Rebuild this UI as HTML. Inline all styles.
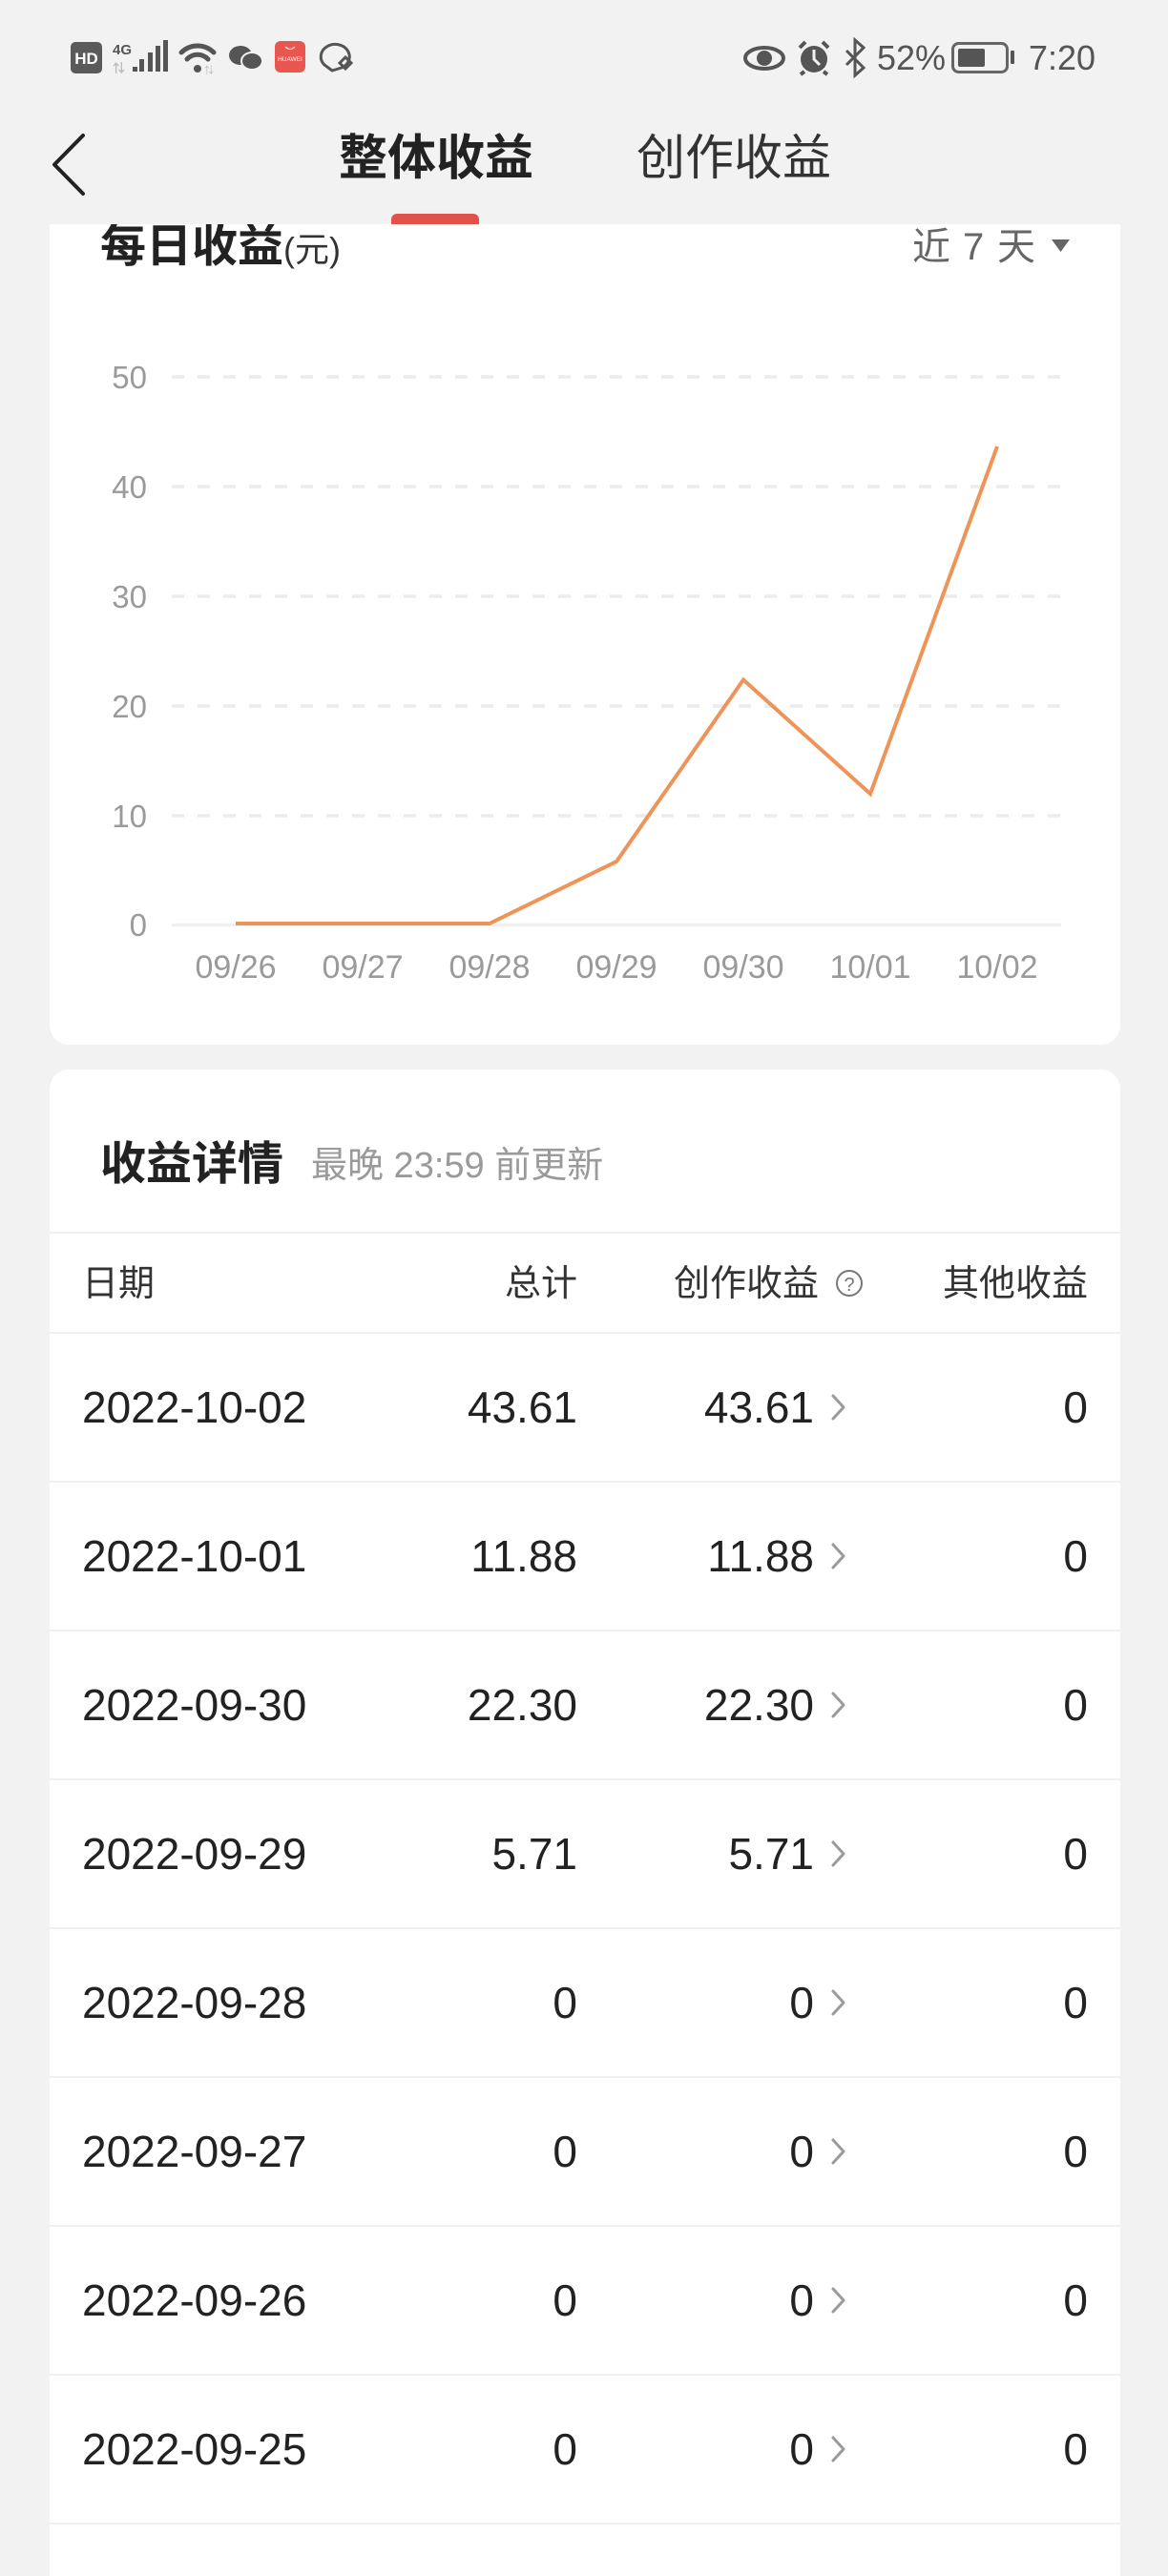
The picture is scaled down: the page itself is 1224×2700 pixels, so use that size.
<!DOCTYPE html>
<html><head><meta charset="utf-8"><style>
html,body{margin:0;padding:0;}
body{width:1224px;height:2700px;background:#f2f2f2;overflow:hidden;position:relative;font-family:"Liberation Sans","Noto Sans CJK SC",sans-serif;}
svg{position:absolute;left:0;top:0;}
</style></head><body>
<svg width="1224" height="2700" viewBox="0 0 1224 2700" xmlns="http://www.w3.org/2000/svg" font-family="Liberation Sans, Noto Sans CJK SC, sans-serif">
<!-- card 1 -->
<path d="M52,200 H1174 V1075 a20,20 0 0 1 -20,20 H72 a20,20 0 0 1 -20,-20 Z" fill="#ffffff"/>
<text x="105" y="274" font-size="48" font-weight="bold" fill="#222">每日收益<tspan font-size="36" font-weight="normal" fill="#333">(元)</tspan></text>
<!-- header bg -->
<rect x="0" y="0" width="1224" height="235" fill="#f2f2f2"/>
<!-- status bar left -->
<rect x="74" y="44" width="33" height="33" rx="5" fill="#5a5a5a"/>
<text x="90.5" y="67" font-size="17" font-weight="bold" fill="#fff" text-anchor="middle">HD</text>
<text x="118" y="57" font-size="15" font-weight="bold" fill="#555">4G</text>
<text x="118" y="76" font-size="13" font-weight="bold" fill="#bbb">⇅</text>
<rect x="139" y="70" width="5" height="5" fill="#555"/>
<rect x="146" y="62" width="5" height="13" fill="#555"/>
<rect x="155" y="55" width="5" height="20" fill="#555"/>
<rect x="163" y="48" width="5" height="27" fill="#555"/>
<rect x="171" y="42" width="5" height="33" fill="#555"/>
<g fill="none" stroke="#555" stroke-width="5" stroke-linecap="round">
<path d="M190,55 a24,24 0 0 1 34,0"/>
<path d="M196,62 a15,15 0 0 1 22,0"/>
</g>
<circle cx="207" cy="72" r="4" fill="#555"/>
<text x="214" y="77" font-size="10" fill="#bbb">⇅</text>
<ellipse cx="252" cy="58" rx="12" ry="10" fill="#555"/>
<ellipse cx="264" cy="64" rx="11" ry="9" fill="#555" stroke="#f2f2f2" stroke-width="2"/>
<rect x="288" y="43" width="32" height="33" rx="6" fill="#e8564f"/>
<text x="304" y="64" font-size="6.5" fill="#fff" text-anchor="middle">HUAWEI</text>
<path d="M299,49 q5,5 10,0" stroke="#fff" stroke-width="1" fill="none"/>
<g fill="none" stroke="#555" stroke-width="3">
<path d="M340,68 a15,13 0 1 1 18,3 l-10,3 z"/>
<path d="M356,66 l6,-6 l6,6 l-6,6 z"/>
</g>
<!-- status bar right -->
<ellipse cx="801" cy="61" rx="20" ry="11" fill="none" stroke="#555" stroke-width="4"/>
<circle cx="801" cy="61" r="8" fill="#555"/>
<circle cx="853" cy="62" r="14" fill="#555"/>
<path d="M838,50 l6,-6 M868,50 l-6,-6 M843,75 l-4,3 M863,75 l4,3" stroke="#555" stroke-width="4"/>
<path d="M853,52 v10 l6,6" stroke="#f2f2f2" stroke-width="3" fill="none"/>
<path d="M887,53 l18,18 l-9,8 v-37 l9,8 l-18,18" stroke="#555" stroke-width="3" fill="none"/>
<text x="919" y="73" font-size="36" fill="#555">52%</text>
<rect x="998.5" y="45.5" width="57" height="30" rx="6" fill="none" stroke="#666" stroke-width="3"/>
<rect x="1004" y="51" width="28" height="19" rx="2" fill="#555"/>
<rect x="1059" y="53" width="4" height="14" rx="1" fill="#555"/>
<text x="1078" y="73" font-size="36" fill="#555">7:20</text>
<!-- nav -->
<path d="M87,142 L57,172.5 L87,203" stroke="#222" stroke-width="4" fill="none" stroke-linecap="round" stroke-linejoin="round"/>
<text x="355" y="183" font-size="51" font-weight="bold" fill="#222">整体收益</text>
<text x="667" y="183" font-size="51" fill="#333">创作收益</text>
<path d="M410,235 V230 a6,6 0 0 1 6,-6 H496 a6,6 0 0 1 6,6 V235 Z" fill="#df5149"/>
<!-- range selector -->
<text x="956" y="272" font-size="40" fill="#666">近</text>
<text x="1009" y="272" font-size="40" fill="#666">7</text>
<text x="1045" y="272" font-size="40" fill="#666">天</text>
<polygon points="1102,251 1121,251 1111.5,264" fill="#666"/>
<!-- grid -->
<g stroke="#ececec" stroke-width="3.5" stroke-dasharray="13 14">
<line x1="180" y1="395" x2="1112" y2="395"/>
<line x1="180" y1="510" x2="1112" y2="510"/>
<line x1="180" y1="625" x2="1112" y2="625"/>
<line x1="180" y1="740" x2="1112" y2="740"/>
<line x1="180" y1="855" x2="1112" y2="855"/>
</g>
<line x1="180" y1="969.5" x2="1112" y2="969.5" stroke="#f0f0f0" stroke-width="3.5"/>
<g font-size="33" fill="#9a9a9a" text-anchor="end">
<text x="154" y="407">50</text>
<text x="154" y="522">40</text>
<text x="154" y="637">30</text>
<text x="154" y="752">20</text>
<text x="154" y="867">10</text>
<text x="154" y="981">0</text>
</g>
<g font-size="34" fill="#9a9a9a" text-anchor="middle">
<text x="247" y="1025">09/26</text>
<text x="380" y="1025">09/27</text>
<text x="513" y="1025">09/28</text>
<text x="646" y="1025">09/29</text>
<text x="779" y="1025">09/30</text>
<text x="912" y="1025">10/01</text>
<text x="1045" y="1025">10/02</text>
</g>
<polyline points="247,968 380,968 513,968 646,903 779,712.5 912,832 1045,468" fill="none" stroke="#ef9458" stroke-width="4" stroke-linejoin="miter"/>
<!-- card 2 -->
<path d="M52,1141 a20,20 0 0 1 20,-20 H1154 a20,20 0 0 1 20,20 V2710 H52 Z" fill="#ffffff"/>
<text x="105" y="1236" font-size="48" font-weight="bold" fill="#222">收益详情</text>
<text x="326" y="1234" font-size="38" fill="#9a9a9a">最晚 23:59 前更新</text>
<g fill="#f0f0f0">
<rect x="52" y="1291" width="1122" height="2"/>
<rect x="52" y="1396" width="1122" height="2"/>
<rect x="52" y="1552" width="1122" height="2"/>
<rect x="52" y="1708" width="1122" height="2"/>
<rect x="52" y="1864" width="1122" height="2"/>
<rect x="52" y="2020" width="1122" height="2"/>
<rect x="52" y="2176" width="1122" height="2"/>
<rect x="52" y="2332" width="1122" height="2"/>
<rect x="52" y="2488" width="1122" height="2"/>
<rect x="52" y="2644" width="1122" height="2"/>
</g>
<g font-size="38" fill="#333">
<text x="86" y="1358">日期</text>
<text x="605" y="1358" text-anchor="end">总计</text>
<text x="706" y="1358">创作收益</text>
<text x="1140" y="1358" text-anchor="end">其他收益</text>
</g>
<circle cx="890" cy="1345" r="13" fill="none" stroke="#777" stroke-width="2"/>
<text x="890" y="1353" font-size="20" fill="#777" text-anchor="middle">?</text>
<g font-size="46" fill="#222">
<text x="86" y="1491">2022-10-02</text><text x="605" y="1491" text-anchor="end">43.61</text><text x="853" y="1491" text-anchor="end">43.61</text><text x="1140" y="1491" text-anchor="end">0</text>
<text x="86" y="1647">2022-10-01</text><text x="605" y="1647" text-anchor="end">11.88</text><text x="853" y="1647" text-anchor="end">11.88</text><text x="1140" y="1647" text-anchor="end">0</text>
<text x="86" y="1803">2022-09-30</text><text x="605" y="1803" text-anchor="end">22.30</text><text x="853" y="1803" text-anchor="end">22.30</text><text x="1140" y="1803" text-anchor="end">0</text>
<text x="86" y="1959">2022-09-29</text><text x="605" y="1959" text-anchor="end">5.71</text><text x="853" y="1959" text-anchor="end">5.71</text><text x="1140" y="1959" text-anchor="end">0</text>
<text x="86" y="2115">2022-09-28</text><text x="605" y="2115" text-anchor="end">0</text><text x="853" y="2115" text-anchor="end">0</text><text x="1140" y="2115" text-anchor="end">0</text>
<text x="86" y="2271">2022-09-27</text><text x="605" y="2271" text-anchor="end">0</text><text x="853" y="2271" text-anchor="end">0</text><text x="1140" y="2271" text-anchor="end">0</text>
<text x="86" y="2427">2022-09-26</text><text x="605" y="2427" text-anchor="end">0</text><text x="853" y="2427" text-anchor="end">0</text><text x="1140" y="2427" text-anchor="end">0</text>
<text x="86" y="2583">2022-09-25</text><text x="605" y="2583" text-anchor="end">0</text><text x="853" y="2583" text-anchor="end">0</text><text x="1140" y="2583" text-anchor="end">0</text>
</g>
<g fill="none" stroke="#9a9a9a" stroke-width="3" stroke-linecap="round" stroke-linejoin="round">
<polyline points="873,1463 884,1475 873,1487"/>
<polyline points="873,1619 884,1631 873,1643"/>
<polyline points="873,1775 884,1787 873,1799"/>
<polyline points="873,1931 884,1943 873,1955"/>
<polyline points="873,2087 884,2099 873,2111"/>
<polyline points="873,2243 884,2255 873,2267"/>
<polyline points="873,2399 884,2411 873,2423"/>
<polyline points="873,2555 884,2567 873,2579"/>
</g>
</svg>
</body></html>
